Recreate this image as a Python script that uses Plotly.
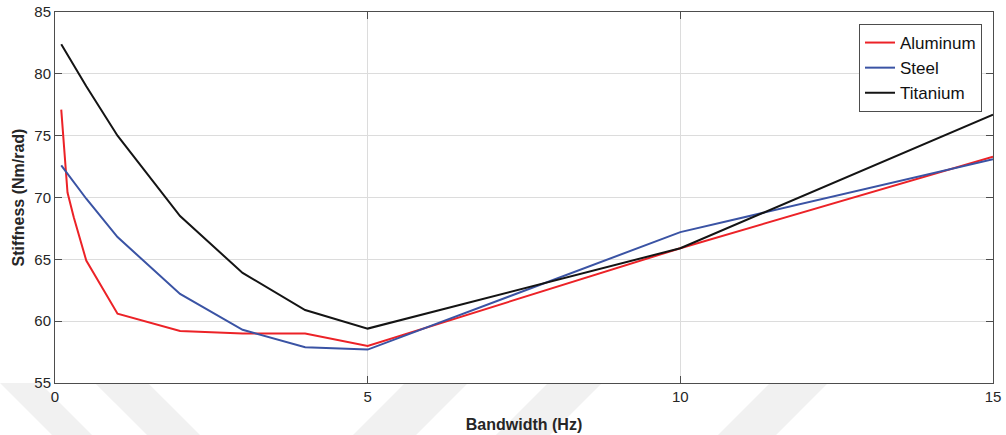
import plotly.graph_objects as go

# Bandwidth (Hz) sample points
bandwidth = [0.1, 0.2, 0.3, 0.5, 1, 2, 3, 4, 5, 10, 15]

# Stiffness (Nm/rad) per material
aluminum = [77.1, 70.4, 68.4, 64.9, 60.6, 59.2, 59.0, 59.0, 58.0, 65.9, 73.3]
steel = [72.6, 71.9, 71.25, 69.9, 66.8, 62.2, 59.3, 57.9, 57.7, 67.2, 73.1]
titanium = [82.4, 81.55, 80.7, 79.0, 75.0, 68.5, 63.9, 60.9, 59.4, 65.9, 76.7]

x_ticks = [0, 5, 10, 15]
y_ticks = [55, 60, 65, 70, 75, 80, 85]

series = [
    ("Aluminum", aluminum, "#ec2227"),
    ("Steel", steel, "#3a53a4"),
    ("Titanium", titanium, "#141414"),
]

FONT = "Liberation Sans, Arial"

fig = go.Figure()
for name, values, color in series:
    fig.add_trace(go.Scatter(
        x=bandwidth, y=values, name=name, mode="lines",
        line=dict(color=color, width=2),
    ))

axis_common = dict(
    showline=True, mirror="ticks", linecolor="#4d4d4d", linewidth=1,
    ticks="inside", ticklen=7, tickcolor="#4d4d4d",
    showgrid=True, gridcolor="#dcdcdc", gridwidth=1,
    zeroline=False, automargin=False,
    tickfont=dict(family=FONT, size=15, color="#262626"),
)

fig.update_xaxes(
    range=[0, 15], tickvals=x_ticks, **axis_common,
    title=dict(text="<b>Bandwidth (Hz)</b>", standoff=14,
               font=dict(family=FONT, size=16, color="#262626")),
)
fig.update_yaxes(
    range=[55, 85], tickvals=y_ticks, **axis_common,
    title=dict(text="<b>Stiffness (Nm/rad)</b>", standoff=5,
               font=dict(family=FONT, size=16, color="#262626")),
)

# Faint diagonal background bands along the bottom edge of the page
L, R, T, B = 55, 993, 12, 383
W, H = 1006, 435


def px(xp, yp):
    return (xp - L) / (R - L), (B - yp) / (B - T)


bands = [
    [(0, 383), (40, 383), (92, 435), (52, 435)],
    [(95, 383), (148, 383), (200, 435), (147, 435)],
    [(405, 383), (468, 383), (416, 435), (353, 435)],
    [(548, 383), (602, 383), (550, 435), (496, 435)],
    [(770, 383), (828, 383), (776, 435), (718, 435)],
]
shapes = []
for band in bands:
    pts = [px(a, b) for a, b in band]
    path = "M " + " L ".join(f"{a:.4f},{b:.4f}" for a, b in pts) + " Z"
    shapes.append(dict(type="path", xref="paper", yref="paper", path=path,
                       fillcolor="#f1f1f1", line=dict(width=0), layer="below"))

fig.update_layout(
    width=W, height=H,
    margin=dict(l=L, r=W - R, t=T, b=H - B),
    plot_bgcolor="white", paper_bgcolor="white",
    shapes=shapes,
    showlegend=True,
    legend=dict(
        x=(982 - L) / (R - L), y=(B - 24) / (B - T),
        xanchor="right", yanchor="top",
        bgcolor="white", bordercolor="#4d4d4d", borderwidth=1,
        font=dict(family=FONT, size=17, color="#111111"),
        tracegroupgap=0, itemwidth=30,
    ),
)

fig.write_html("out.html")
